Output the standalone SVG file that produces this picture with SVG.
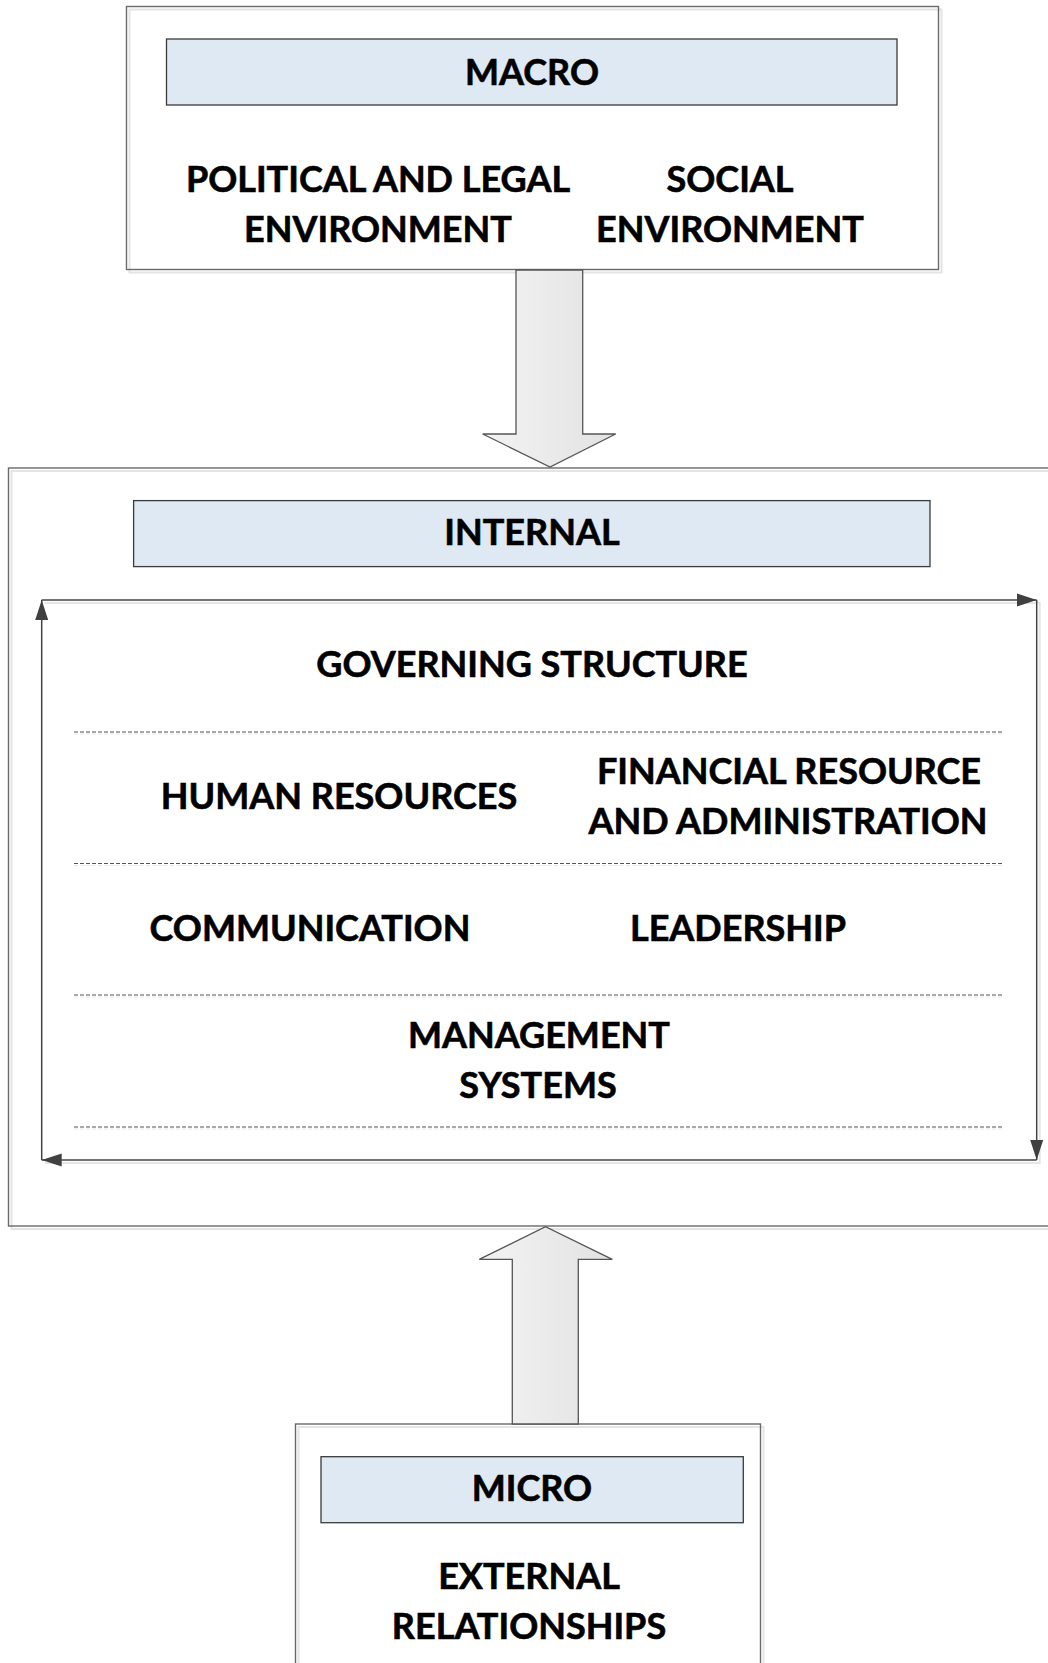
<svg xmlns="http://www.w3.org/2000/svg" width="1048" height="1663" viewBox="0 0 1048 1663">
<defs>
<style>
.box{fill:none;stroke:#6a6a6a;stroke-width:1.4}
.shadow{fill:none;stroke:#e4e4e4;stroke-width:2}
.hdr{fill:#dfe9f3;stroke:#3a3a3a;stroke-width:1.3}
.t{font-family:Lato,"Open Sans","Liberation Sans",sans-serif;font-weight:700;font-size:36px;fill:#000;stroke:#000;stroke-width:0.6;text-anchor:middle}
.blk{stroke:#555;stroke-width:1.3;fill:url(#g)}
.conn{fill:none;stroke:#444;stroke-width:1.5}
.cshadow{fill:none;stroke:#e6e6e6;stroke-width:2}
.dash{fill:none;stroke:#555;stroke-width:1;stroke-dasharray:4 2}
.dshadow{fill:none;stroke:#e8e8e8;stroke-width:1;stroke-dasharray:4 2}
</style>
<linearGradient id="g" x1="0" y1="0" x2="1" y2="0">
<stop offset="0" stop-color="#f3f3f3"/>
<stop offset="1" stop-color="#e2e2e2"/>
</linearGradient>
<marker id="ah" markerUnits="userSpaceOnUse" markerWidth="21" markerHeight="14" refX="20" refY="7" orient="auto" viewBox="0 0 21 14">
<path d="M0,0.5 L20,7 L0,13.5 z" fill="#404040"/>
</marker>
</defs>
<rect width="1048" height="1663" fill="#fff"/>

<g id="macro">
<rect class="shadow" x="129.5" y="9.5" width="812" height="263"/>
<rect class="box" x="126.5" y="6.5" width="812" height="263" fill="#fff"/>
<rect class="hdr" x="166.5" y="39" width="730.5" height="66"/>
<text class="t" x="532" y="85">MACRO</text>
<text class="t" x="378" y="192">POLITICAL AND LEGAL</text>
<text class="t" x="378" y="242">ENVIRONMENT</text>
<text class="t" x="730" y="192">SOCIAL</text>
<text class="t" x="730" y="242">ENVIRONMENT</text>
</g>

<g id="internal">
<rect class="shadow" x="11.5" y="471" width="1045" height="758"/>
<rect class="box" x="8.5" y="468" width="1045" height="758" fill="#fff"/>
<rect class="hdr" x="133.6" y="500.6" width="796.4" height="66"/>
<text class="t" x="532" y="545">INTERNAL</text>
<text class="t" x="532" y="677">GOVERNING STRUCTURE</text>
<text class="t" x="339" y="809">HUMAN RESOURCES</text>
<text class="t" x="789" y="784">FINANCIAL RESOURCE</text>
<text class="t" x="788" y="834">AND ADMINISTRATION</text>
<text class="t" x="310" y="941">COMMUNICATION</text>
<text class="t" x="738" y="941">LEADERSHIP</text>
<text class="t" x="539" y="1048">MANAGEMENT</text>
<text class="t" x="538" y="1098">SYSTEMS</text>
</g>

<g id="micro">
<rect class="shadow" x="298.5" y="1427" width="465" height="260"/>
<rect class="box" x="295.5" y="1424" width="465" height="260" fill="#fff"/>
<rect class="hdr" x="321" y="1456.7" width="422.3" height="66"/>
<text class="t" x="532" y="1501">MICRO</text>
<text class="t" x="529" y="1589">EXTERNAL</text>
<text class="t" x="529" y="1639">RELATIONSHIPS</text>
</g>

<g id="connectors">
<path class="blk" d="M516,270 L582.7,270 L582.7,434 L615.7,434 L550,467 L482.7,434 L516,434 z"/>
<path class="blk" d="M512.3,1424 L578.3,1424 L578.3,1259.3 L612.3,1259.3 L545.5,1226.7 L479.3,1259.3 L512.3,1259.3 z"/>
<g id="cycle">
<path class="cshadow" d="M44.7,603 L1039.7,603 L1039.7,1163 L44.7,1163"/>
<line class="conn" x1="41.7" y1="600" x2="1036.7" y2="600" marker-end="url(#ah)"/>
<line class="conn" x1="1036.7" y1="600" x2="1036.7" y2="1160" marker-end="url(#ah)"/>
<line class="conn" x1="1036.7" y1="1160" x2="41.7" y2="1160" marker-end="url(#ah)"/>
<line class="conn" x1="41.7" y1="1160" x2="41.7" y2="600" marker-end="url(#ah)"/>
</g>
<g id="dividers">
<line class="dshadow" x1="74" y1="734" x2="1004" y2="734"/>
<line class="dash" x1="74" y1="732" x2="1004" y2="732"/>
<line class="dshadow" x1="74" y1="865.5" x2="1004" y2="865.5"/>
<line class="dash" x1="74" y1="863.5" x2="1004" y2="863.5"/>
<line class="dshadow" x1="74" y1="997" x2="1004" y2="997"/>
<line class="dash" x1="74" y1="995" x2="1004" y2="995"/>
<line class="dshadow" x1="74" y1="1129" x2="1004" y2="1129"/>
<line class="dash" x1="74" y1="1127" x2="1004" y2="1127"/>
</g>
</g>
</svg>
